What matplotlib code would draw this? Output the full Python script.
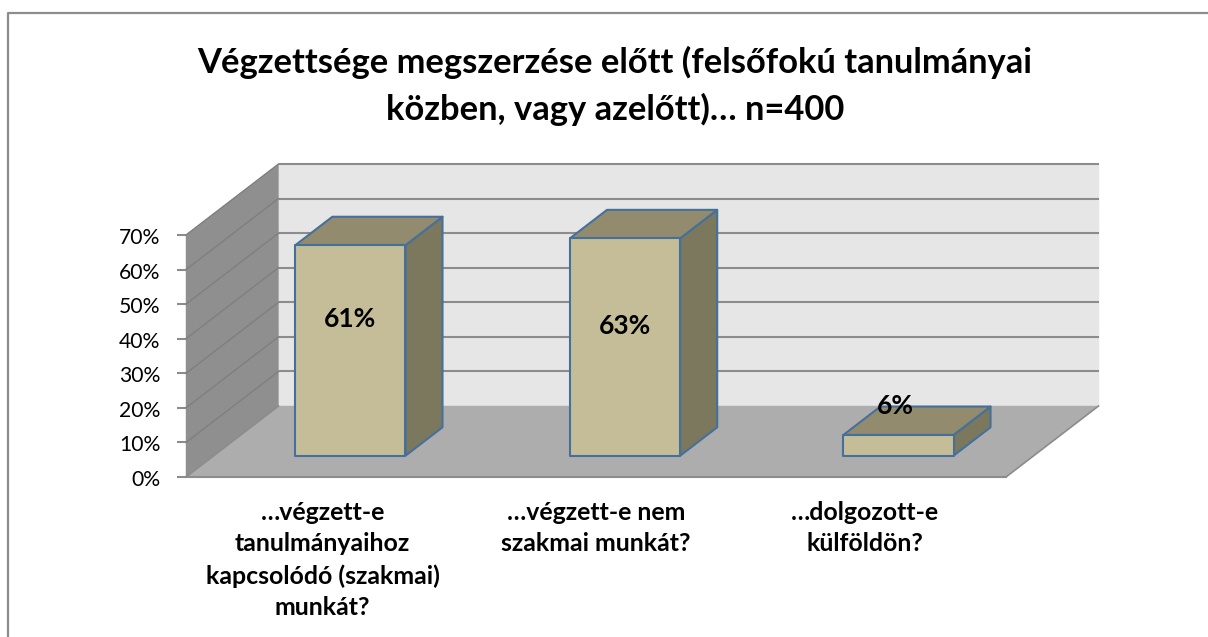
import matplotlib
matplotlib.use('Agg')
import matplotlib.pyplot as plt
from matplotlib.lines import Line2D
from matplotlib.patches import Polygon
from matplotlib.transforms import ScaledTranslation

plt.rcParams['font.family'] = ['Lato', 'Open Sans', 'DejaVu Sans']

title = 'Végzettsége megszerzése előtt (felsőfokú tanulmányai\nközben, vagy azelőtt)… n=400'
categories = ['…végzett-e\ntanulmányaihoz\nkapcsolódó (szakmai)\nmunkát?',
              '…végzett-e nem\nszakmai munkát?',
              '…dolgozott-e\nkülföldön?']
values = [60.9, 62.9, 6.0]
value_labels = ['61%', '63%', '6%']
y_ticks = [0, 10, 20, 30, 40, 50, 60, 70]

W, H = 1208, 637

# front plane of the 3D box, in pixels
ax_left, ax_right = 186, 1006
ax_top, ax_bottom = 235, 477

# depth of the box in data units (x in categories, y in percent)
DX = 92.5 / 273.3
DY = 71 / (242 / 70)

bar_centers = [0.5, 1.505, 2.505]
bar_width = 0.403
bar_d0, bar_d1 = 0.30, 0.70
label_y = [45.6, 43.8, 20.5]
label_dx = [0.0, 0.0, -0.01]
cat_shift = [0, 0, -4]

BACK = '#e6e6e6'
WALL = '#8f8f8f'
FLOOR = '#adadad'
GRID = '#8c8c8c'
FRONT = '#c4bd97'
TOP = '#938b6e'
SIDE = '#7c785e'
EDGE = '#46709c'


def pt(x, y, d=0.0):
    return (x + d * DX, y + d * DY)


def face(ax, pts, color, edge=None, lw=1.5, z=1):
    ax.add_patch(Polygon(pts, closed=True, facecolor=color,
                         edgecolor=edge if edge else color,
                         linewidth=lw if edge else 0.3,
                         clip_on=False, zorder=z, joinstyle='round'))


fig = plt.figure(figsize=(W / 100, H / 100), dpi=100, facecolor='white')
ax = fig.add_axes([ax_left / W, 1 - ax_bottom / H,
                   (ax_right - ax_left) / W, (ax_bottom - ax_top) / H])
ax.set_xlim(0, len(categories))
ax.set_ylim(0, 70)
ax.patch.set_visible(False)
for s in ax.spines.values():
    s.set_visible(False)

# walls and floor
n = len(categories)
face(ax, [pt(0, 0, 1), pt(n, 0, 1), pt(n, 70, 1), pt(0, 70, 1)], BACK, z=1)
face(ax, [pt(0, 0), pt(0, 0, 1), pt(0, 70, 1), pt(0, 70)], WALL, z=1)
face(ax, [pt(0, 0), pt(n, 0), pt(n, 0, 1), pt(0, 0, 1)], FLOOR, z=1)

# gridlines
for v in y_ticks[1:]:
    x0, y0 = pt(0, v, 1)
    x1, y1 = pt(n, v, 1)
    ax.plot([x0, x1], [y0, y1], color=GRID, lw=1.5, clip_on=False, zorder=2,
            solid_capstyle='butt')
    xf, yf = pt(0, v)
    ax.plot([xf, x0], [yf, y0], color='#7f7f7f', lw=1.0, clip_on=False, zorder=2)
x0, y0 = pt(0, 0, 1)
ax.plot([pt(0, 0)[0], x0], [pt(0, 0)[1], y0], color=GRID, lw=1.2, clip_on=False, zorder=2)
ax.plot([pt(0, 0)[0], pt(n, 0)[0]], [0, 0], color=GRID, lw=1.5, clip_on=False, zorder=2)
ax.plot([pt(n, 0)[0], pt(n, 0, 1)[0]], [0, pt(n, 0, 1)[1]], color=GRID, lw=1.2, clip_on=False, zorder=2)

# bars
for i, v in enumerate(values):
    xa = bar_centers[i] - bar_width / 2
    xb = bar_centers[i] + bar_width / 2
    face(ax, [pt(xb, 0, bar_d0), pt(xb, 0, bar_d1), pt(xb, v, bar_d1), pt(xb, v, bar_d0)],
         SIDE, EDGE, z=3)
    face(ax, [pt(xa, v, bar_d0), pt(xb, v, bar_d0), pt(xb, v, bar_d1), pt(xa, v, bar_d1)],
         TOP, EDGE, z=3)
    face(ax, [pt(xa, 0, bar_d0), pt(xb, 0, bar_d0), pt(xb, v, bar_d0), pt(xa, v, bar_d0)],
         FRONT, EDGE, z=4)
    lx = pt(bar_centers[i] + label_dx[i], 0, bar_d0)[0]
    ax.text(lx, label_y[i], value_labels[i], ha='center', va='center',
            fontsize=19, fontweight='bold', color='black', zorder=6)

# axes ticks and labels
ax.set_yticks(y_ticks)
ax.set_yticklabels(['%d%%' % v for v in y_ticks], fontsize=15.2, color='black')
ax.tick_params(axis='y', length=6.5, width=1.5, color=GRID, pad=12)
nudge = ScaledTranslation(0, -1 / 100, fig.dpi_scale_trans)
for lab in ax.get_yticklabels():
    lab.set_va('center_baseline')
    lab.set_transform(lab.get_transform() + nudge)
ax.set_xticks([])
for i, c in enumerate(categories):
    ax.annotate(c, xy=(i + 0.5, 0), xytext=(cat_shift[i], -24), textcoords='offset pixels',
                ha='center', va='top', fontsize=17.9, fontweight='bold',
                linespacing=1.44, annotation_clip=False)

fig.text(615 / W, 1 - 86 / H, title, ha='center', va='center',
         fontsize=24.8, fontweight='bold', linespacing=1.53)

# chart frame, only top and left show, it runs off the picture
fx = [8 / W, 8 / W, 1]
fy = [0, 1 - 13 / H, 1 - 13 / H]
fig.add_artist(Line2D(fx, fy, color='#8c8c8c', lw=1.6, transform=fig.transFigure))

fig.savefig('out.png', dpi=100)
